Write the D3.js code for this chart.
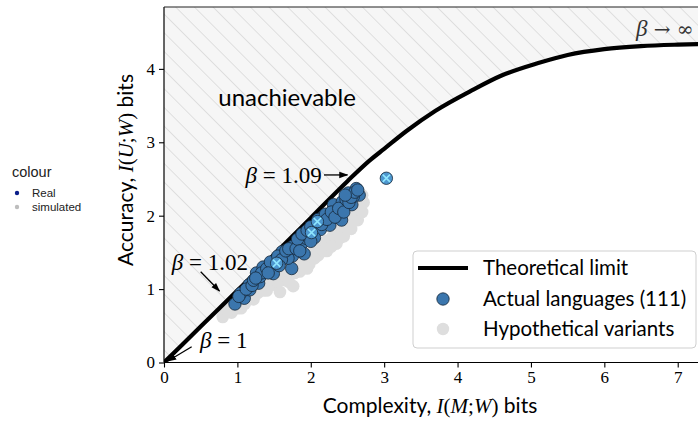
<!DOCTYPE html>
<html><head><meta charset="utf-8">
<script src="https://cdn.jsdelivr.net/npm/d3@7"></script>
<style>
html,body{margin:0;padding:0;background:#fff;}
svg{display:block;}
</style></head>
<body>
<svg id="chart" width="698" height="422"></svg>
<script>
// ---- data ----
const limitComplexity = [0, 0.5, 1.0, 1.5, 2.0, 2.5, 2.8, 3.0, 3.3, 3.7, 4.2, 4.6, 5.1, 5.5, 6.0, 6.5, 7.0, 7.4];
const limitAccuracy   = [0, 0.49, 0.98, 1.47, 1.97, 2.47, 2.75, 2.91, 3.15, 3.43, 3.71, 3.91, 4.08, 4.19, 4.27, 4.31, 4.33, 4.34];

const realComplexity = [0.967,1.094,1.045,1.17,1.16,1.29,1.31,1.26,1.35,1.49,1.535,1.61,1.74,1.75,1.69,1.75,1.87,1.91,1.94,2.01,2.09,2.13,2.17,2.26,2.31,2.37,2.42,2.43,2.51,2.56,2.62,2.66,2.58,3.03,
  1.02,1.12,1.20,1.22,1.33,1.40,1.45,1.55,1.60,1.66,1.70,1.80,1.82,1.88,1.95,2.00,2.05,2.10,2.15,2.20,2.22,2.28,2.33,2.38,2.45,2.48,2.52,2.55,2.60,2.64,2.47,2.00,1.85,1.57,1.42,1.25];
const realAccuracy   = [0.797,0.875,0.943,0.99,1.06,1.08,1.17,1.22,1.30,1.21,1.352,1.51,1.28,1.45,1.42,1.58,1.61,1.48,1.69,1.77,1.92,1.81,1.99,1.87,2.15,2.01,1.94,2.19,2.31,2.15,2.37,2.28,2.26,2.51,
  0.90,1.00,1.05,1.12,1.22,1.28,1.37,1.45,1.40,1.52,1.55,1.55,1.68,1.75,1.80,1.85,1.70,1.95,1.88,2.02,1.95,2.05,1.98,2.10,2.05,2.22,2.18,2.25,2.32,2.35,2.28,1.65,1.52,1.32,1.22,1.15];
const markedIndex = [10, 19, 20, 33];

const simComplexity = [0.80,0.82,0.90,0.98,1.05,1.12,1.18,1.25,1.30,1.36,1.42,1.50,1.55,1.62,1.70,1.76,1.82,1.88,1.95,2.02,2.08,2.15,2.22,2.30,2.36,2.42,2.50,2.56,2.62,2.66,2.68,
  0.92,1.00,1.10,1.22,1.35,1.48,1.60,1.72,1.85,1.98,2.10,2.22,2.35,2.45,2.55,2.64,1.28,1.45,1.65,1.80,2.00,2.20,2.40,2.60,1.58,1.76,
  0.86,0.95,1.03,1.15,1.28,1.38,1.52,1.65,1.78,1.92,2.05,2.18,2.28,2.40,2.52,2.60,2.70,2.72,2.70,1.05,1.40,1.70,1.95];
const simAccuracy   = [0.62,0.72,0.80,0.82,0.90,0.93,1.00,1.05,1.02,1.12,1.18,1.22,1.20,1.30,1.32,1.35,1.30,1.42,1.48,1.50,1.58,1.62,1.66,1.72,1.80,1.86,1.90,1.98,2.06,2.14,2.22,
  0.68,0.74,0.80,0.86,0.98,1.06,1.12,1.20,1.24,1.34,1.46,1.52,1.62,1.72,1.82,1.94,1.20,1.35,1.48,1.60,1.72,1.86,2.02,2.20,0.96,1.04,
  0.70,0.74,0.80,0.86,0.95,1.05,1.12,1.18,1.22,1.30,1.42,1.52,1.58,1.70,1.82,1.95,2.05,2.18,2.28,0.74,0.98,1.10,1.28];

const xTicks = [0,1,2,3,4,5,6,7];
const yTicks = [0,1,2,3,4];

// ---- layout ----
const svg = d3.select("#chart");
const x = d3.scaleLinear().domain([0, 7.29]).range([164, 699]);
const y = d3.scaleLinear().domain([0, 4.843]).range([362.5, 7]);
const serif = "'Liberation Serif','DejaVu Serif',serif";
const sans = "Lato,'Open Sans',sans-serif";

const defs = svg.append("defs");
const pat = defs.append("pattern").attr("id","hatch").attr("patternUnits","userSpaceOnUse")
  .attr("width",13.2).attr("height",13.2).attr("patternTransform","rotate(-45)");
pat.append("rect").attr("width",13.2).attr("height",13.2).attr("fill","#f6f6f6");
pat.append("line").attr("x1",0).attr("y1",0).attr("x2",0).attr("y2",13.2)
  .attr("stroke","#c9c9c9").attr("stroke-width",1);
defs.append("clipPath").attr("id","plotclip").append("rect")
  .attr("x",164).attr("y",7).attr("width",535).attr("height",355.5);
defs.append("marker").attr("id","arrow").attr("viewBox","0 0 10 10").attr("refX",9).attr("refY",5)
  .attr("markerWidth",7).attr("markerHeight",7).attr("orient","auto-start-reverse")
  .append("path").attr("d","M0,1.5 L10,5 L0,8.5 Z").attr("fill","#000");

const limit = limitComplexity.map((c,i)=>({c, a: limitAccuracy[i]}));
const plot = svg.append("g").attr("clip-path","url(#plotclip)");

plot.append("path").datum(limit)
  .attr("d", d3.area().x(d=>x(d.c)).y0(y(4.843)).y1(d=>y(d.a)).curve(d3.curveMonotoneX))
  .attr("fill","url(#hatch)");

// simulated
plot.append("g").selectAll("circle").data(simComplexity.map((c,i)=>({c,a:simAccuracy[i]})))
  .join("circle").attr("cx",d=>x(d.c)).attr("cy",d=>y(d.a)).attr("r",6.3)
  .attr("fill","#dedede");

plot.append("path").datum(limit)
  .attr("d", d3.line().x(d=>x(d.c)).y(d=>y(d.a)).curve(d3.curveMonotoneX))
  .attr("fill","none").attr("stroke","#000").attr("stroke-width",4.2);

// real
const real = realComplexity.map((c,i)=>({c,a:realAccuracy[i],m:markedIndex.includes(i)}));
const rg = plot.append("g");
rg.selectAll("circle").data(real.filter(d=>!d.m).concat(real.filter(d=>d.m)))
  .join("circle").attr("cx",d=>x(d.c)).attr("cy",d=>y(d.a)).attr("r",6.2)
  .attr("fill",d=>d.m?"#4d97cf":"#3b76ad").attr("stroke","#16283a").attr("stroke-width",0.8);
rg.selectAll("path.x").data(real.filter(d=>d.m)).join("path").attr("class","x")
  .attr("d",d=>{const cx=x(d.c),cy=y(d.a),s=3.6;return `M${cx-s},${cy-s}L${cx+s},${cy+s}M${cx-s},${cy+s}L${cx+s},${cy-s}`;})
  .attr("stroke","#8fe6ff").attr("stroke-width",1.6);

// axes
const xa = svg.append("g").attr("transform","translate(0,362.5)")
  .call(d3.axisBottom(x).tickValues(xTicks).tickFormat(d3.format("d")).tickSize(5).tickSizeOuter(0).tickPadding(3));
const ya = svg.append("g").attr("transform","translate(164,0)")
  .call(d3.axisLeft(y).tickValues(yTicks).tickFormat(d3.format("d")).tickSize(5).tickSizeOuter(0).tickPadding(4));
[xa,ya].forEach(a=>{
  a.select(".domain").attr("stroke","#000").attr("stroke-width",1.2);
  a.selectAll(".tick line").attr("stroke","#000").attr("stroke-width",1.1);
  a.selectAll(".tick text").attr("font-family",serif).attr("font-size",17).attr("fill","#000");
});
ya.select(".domain").attr("d","M0,7V362.5");
xa.select(".domain").attr("d","M164,0H699");
svg.append("line").attr("x1",164).attr("x2",699).attr("y1",7).attr("y2",7).attr("stroke","#222").attr("stroke-width",1.1);

// axis labels
function mathLabel(t, parts){
  parts.forEach(p=>{
    t.append("tspan").text(p[0]).attr("font-family",p[1]==="s"?sans:serif)
      .attr("font-style",p[1]==="i"?"italic":"normal");
  });
}
const xl = svg.append("text").attr("x",430).attr("y",413).attr("text-anchor","middle").attr("font-size",21).attr("fill","#000");
mathLabel(xl,[["Complexity, ","s"],["I","i"],["(","u"],["M","i"],[";","u"],["W","i"],[")","u"],[" bits","s"]]);
const yl = svg.append("text").attr("transform","translate(133,170) rotate(-90)").attr("text-anchor","middle").attr("font-size",21).attr("fill","#000");
mathLabel(yl,[["Accuracy, ","s"],["I","i"],["(","u"],["U","i"],[";","u"],["W","i"],[")","u"],[" bits","s"]]);

// annotations
svg.append("text").attr("x",x(0.74)).attr("y",y(3.5)).attr("font-family",sans).attr("font-size",24).attr("fill","#000").text("unachievable");
function betaText(xv,yv,rest,anchor){
  const t = svg.append("text").attr("x",x(xv)).attr("y",y(yv)).attr("font-family",serif).attr("font-size",23)
    .attr("fill","#000").attr("text-anchor",anchor||"start");
  t.append("tspan").attr("font-style","italic").text("β");
  t.append("tspan").text(rest);
}
betaText(2.15,2.446," = 1.09","end");
betaText(0.105,1.26," = 1.02");
betaText(0.49,0.193," = 1");
const inf = svg.append("text").attr("x",x(6.43)).attr("y",y(4.448)).attr("font-family",serif).attr("font-size",23).attr("fill","#333");
inf.append("tspan").attr("font-style","italic").text("β");
inf.append("tspan").attr("font-family","'DejaVu Serif',serif").attr("font-size",20).text(" → ∞");
function arrow(x1,y1,x2,y2){
  svg.append("line").attr("x1",x(x1)).attr("y1",y(y1)).attr("x2",x(x2)).attr("y2",y(y2))
    .attr("stroke","#000").attr("stroke-width",1.3).attr("marker-end","url(#arrow)");
}
arrow(2.18,2.555,2.50,2.555);
arrow(0.50,1.237,0.756,0.974);
arrow(0.377,0.215,0.054,0.02);

// legend
const lg = svg.append("g");
lg.append("rect").attr("x",413).attr("y",251).attr("width",283).attr("height",97).attr("rx",4)
  .attr("fill","#fff").attr("fill-opacity",0.85).attr("stroke","#cfcfcf").attr("stroke-width",1);
lg.append("line").attr("x1",418).attr("x2",468).attr("y1",268).attr("y2",268).attr("stroke","#000").attr("stroke-width",4.2);
lg.append("circle").attr("cx",443).attr("cy",299).attr("r",6.2).attr("fill","#3b76ad").attr("stroke","#16283a").attr("stroke-width",0.8);
lg.append("circle").attr("cx",443).attr("cy",329).attr("r",6.2).attr("fill","#dedede");
const legendLabels = ["Theoretical limit","Actual languages (111)","Hypothetical variants"];
lg.selectAll("text").data(legendLabels).join("text").attr("x",483).attr("y",(d,i)=>275+i*30.5)
  .attr("font-family",sans).attr("font-size",20.5).attr("fill","#000").text(d=>d);

// outside colour legend
const cl = svg.append("g").attr("font-family","'Liberation Sans',Arial,sans-serif");
cl.append("text").attr("x",12).attr("y",177).attr("font-size",14.5).attr("fill","#222").text("colour");
cl.append("circle").attr("cx",17).attr("cy",193).attr("r",2.2).attr("fill","#0b1e8a");
cl.append("circle").attr("cx",17).attr("cy",207).attr("r",2.2).attr("fill","#bdbdbd");
cl.append("text").attr("x",32).attr("y",197).attr("font-size",11.5).attr("fill","#222").text("Real");
cl.append("text").attr("x",32).attr("y",211).attr("font-size",11.5).attr("fill","#222").text("simulated");
</script>
</body></html>
